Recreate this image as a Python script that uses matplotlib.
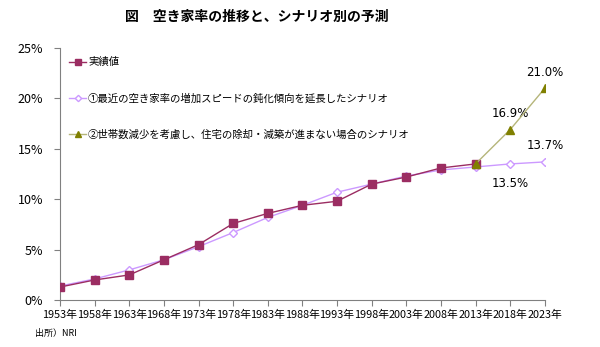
import matplotlib.pyplot as plt
from matplotlib.ticker import FuncFormatter

plt.rcParams['font.family'] = ['Noto Sans CJK JP', 'DejaVu Sans']

years = [1953, 1958, 1963, 1968, 1973, 1978, 1983, 1988, 1993, 1998, 2003, 2008, 2013, 2018, 2023]
year_labels = [f'{y}年' for y in years]

# 実績値 (1953-2013)
actual = [1.3, 2.0, 2.5, 4.0, 5.5, 7.6, 8.6, 9.4, 9.8, 11.5, 12.2, 13.1, 13.5]
# シナリオ① (空き家率の増加スピード鈍化傾向を延長)
scen1 = [1.4, 2.1, 3.0, 4.0, 5.3, 6.7, 8.2, 9.4, 10.7, 11.5, 12.3, 12.9, 13.2, 13.5, 13.7]
# シナリオ② (2013年から)
scen2_years = [2013, 2018, 2023]
scen2 = [13.5, 16.9, 21.0]

names = ['実績値',
         '①最近の空き家率の増加スピードの鈍化傾向を延長したシナリオ',
         '②世帯数減少を考慮し、住宅の除却・減築が進まない場合のシナリオ']

fig = plt.figure(figsize=(6, 3.47), dpi=100)
ax = fig.add_axes([0.1, 0.135, 0.808, 0.727])

x_all = list(range(len(years)))
x2 = [years.index(y) for y in scen2_years]

l1, = ax.plot(x_all[:len(actual)], actual, color='#9b2d62', lw=1.0, marker='s',
              ms=5.5, mfc='#9b2d62', mec='#9b2d62', zorder=3)
l2, = ax.plot(x_all, scen1, color='#cc99ff', lw=1.0, marker='D', ms=4,
              mfc='white', mec='#cc99ff', mew=1.0, zorder=2)
ax.plot(x2, scen2, color='#b5b57a', lw=1.0, zorder=4)
ax.plot(x2, scen2, ls='none', marker='^', ms=6, color='#808000', zorder=5)
l3, = ax.plot([], [], color='#b5b57a', lw=1.0, marker='^', ms=6,
              mfc='#808000', mec='#808000')

# 数値ラベル
lab = dict(ha='center', va='center', fontsize=8.5, family=['DejaVu Sans'])
ax.text(x2[2], scen2[2] + 1.6, f'{scen2[2]:.1f}%', **lab)
ax.text(x2[1], scen2[1] + 1.6, f'{scen2[1]:.1f}%', **lab)
ax.text(x_all[-1], scen1[-1] + 1.6, f'{scen1[-1]:.1f}%', **lab)
ax.text(x_all[-2], scen1[-2] - 1.9, f'{scen1[-2]:.1f}%', **lab)

ax.set_xlim(0, len(years) - 1)
ax.set_ylim(0, 25)
ax.set_xticks(x_all)
ax.set_xticklabels(year_labels, fontsize=7.8)
ax.set_yticks([0, 5, 10, 15, 20, 25])
ax.yaxis.set_major_formatter(FuncFormatter(lambda v, p: f'{v:.0f}%'))
ax.tick_params(axis='y', labelsize=9, length=4, color='#808080', pad=8)
ax.tick_params(axis='x', length=4, color='#808080', pad=3)
for s in ['top', 'right']:
    ax.spines[s].set_visible(False)
for s in ['left', 'bottom']:
    ax.spines[s].set_color('#808080')

ax.legend([l1, l2, l3], names, loc='upper left', bbox_to_anchor=(0.0, 1.0),
          frameon=False, fontsize=7.5, handlelength=1.6, handletextpad=0.2,
          labelspacing=2.5, markerscale=0.8)

fig.text(0.428, 0.95, '図　空き家率の推移と、シナリオ別の予測', ha='center', va='center',
         fontsize=10, fontweight='bold')
fig.text(0.058, 0.04, '出所）NRI', ha='left', va='center', fontsize=6.5)

fig.savefig('out.png', dpi=100)
